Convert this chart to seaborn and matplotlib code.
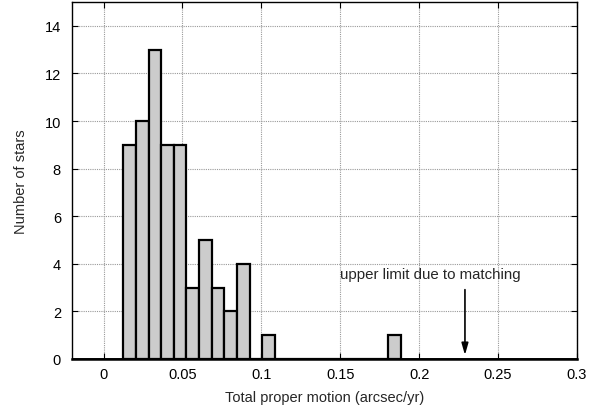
import matplotlib
matplotlib.use("Agg")
import matplotlib.pyplot as plt
import seaborn as sns
import numpy as np
import pandas as pd

# Data
bin_start = 0.0125
bin_width = 0.008
counts = [9, 10, 13, 9, 9, 3, 5, 3, 2, 4, 0, 1, 0, 0, 0, 0, 0, 0, 0, 0, 0, 1]
x_ticks = [0, 0.05, 0.1, 0.15, 0.2, 0.25, 0.3]
x_tick_labels = ["0", "0.05", "0.1", "0.15", "0.2", "0.25", "0.3"]
y_ticks = [0, 2, 4, 6, 8, 10, 12, 14]
limit_x = 0.229
annotation = "upper limit due to matching"

sns.set_theme(style="white")
plt.rcParams['font.family'] = ['Liberation Sans', 'DejaVu Sans']

edges = bin_start + bin_width * np.arange(len(counts) + 1)
centers = (edges[:-1] + edges[1:]) / 2
df = pd.DataFrame({"pm": centers, "n": counts})

fig = plt.figure(figsize=(5.92, 4.10), dpi=100)
ax = fig.add_axes([72/592, 1 - 360/410, (577-72)/592, (360-3)/410])

sns.histplot(data=df, x="pm", weights="n", binwidth=bin_width,
             binrange=(edges[0], edges[-1]), ax=ax,
             color="#cccccc", edgecolor="black", linewidth=1.6, alpha=1.0, zorder=3)

ax.set_xlim(-0.02, 0.3)
ax.set_ylim(0, 15)
ax.set_xticks(x_ticks)
ax.set_xticklabels(x_tick_labels)
ax.set_yticks(y_ticks)
ax.grid(True, color="#999999", linestyle=(0, (1, 1)), linewidth=0.8, zorder=0)
ax.set_axisbelow(True)
ax.axhline(0, color="black", linewidth=2.0, zorder=4)

for s in ax.spines.values():
    s.set_color("black")
    s.set_linewidth(1.0)
ax.spines['bottom'].set_linewidth(1.8)

ax.tick_params(direction="in", length=4, width=0.8, top=True, right=True,
               bottom=True, left=True, labelsize=10.5, colors="black", pad=6)
ax.tick_params(axis='y', pad=8)

ax.set_xlabel("Total proper motion (arcsec/yr)", fontsize=10.5, labelpad=6)
ax.set_ylabel("Number of stars", fontsize=10.5, labelpad=12)

ax.annotate("", xy=(limit_x, 0.05), xytext=(limit_x, 3.03),
            arrowprops=dict(arrowstyle="-|>,head_length=0.7,head_width=0.2",
                            color="black", lw=1.2, mutation_scale=10), zorder=5)
ax.text(0.207, 3.57, annotation, fontsize=10.8, ha="center", va="center", zorder=5)

fig.savefig("out.png", dpi=100)
